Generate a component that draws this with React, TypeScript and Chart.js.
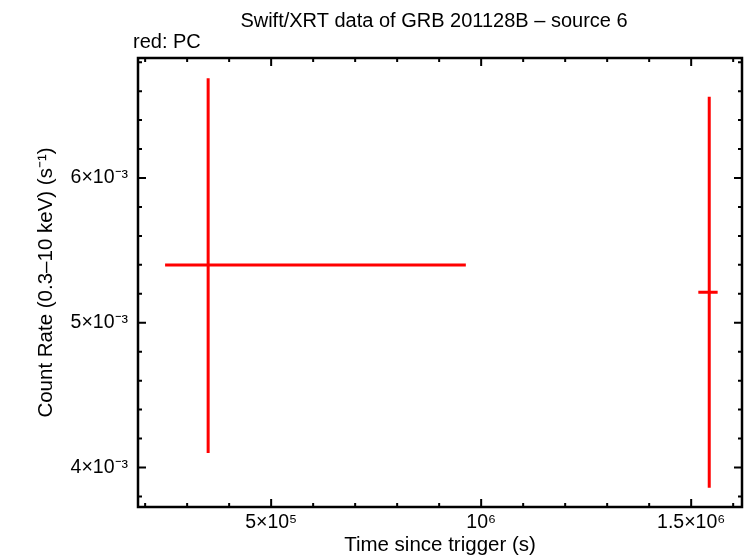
import React, { useEffect, useRef } from "react";
import { Chart, registerables } from "chart.js";

Chart.register(...registerables);

// Data (PC mode, red)
const timeValues = [3.5e5, 1.543e6];
const timeErrLow = [1.025e5, 2.6e4];
const timeErrHigh = [6.135e5, 2.0e4];
const rateValues = [5.399e-3, 5.21e-3];
const rateErrLow = [1.299e-3, 1.35e-3];
const rateErrHigh = [1.29e-3, 1.352e-3];

const xTickValues = [5e5, 1e6, 1.5e6];
const xTickLabels = ["5×10⁵", "10⁶", "1.5×10⁶"];
const yTickValues = [4e-3, 5e-3, 6e-3];
const yTickLabels = ["4×10⁻³", "5×10⁻³", "6×10⁻³"];

const X_MIN = 1.83e5;
const X_MAX = 1.621e6;
const Y_MIN = 3.727e-3;
const Y_MAX = 6.829e-3;
const X_MINOR_STEP = 1e5;
const Y_MINOR_STEP = 2e-4;

const FONT = "'Liberation Sans', Arial, Helvetica, sans-serif";
const RED = "#ff0000";

const errorBarPlugin = {
  id: "errorBars",
  afterDatasetsDraw(chart: any) {
    const { ctx, scales } = chart;
    const xs = scales.x;
    const ys = scales.y;
    ctx.save();
    ctx.strokeStyle = RED;
    ctx.lineWidth = 3;
    ctx.lineCap = "butt";
    for (let i = 0; i < timeValues.length; i++) {
      const x = xs.getPixelForValue(timeValues[i]);
      const y = ys.getPixelForValue(rateValues[i]);
      const x0 = xs.getPixelForValue(timeValues[i] - timeErrLow[i]);
      const x1 = xs.getPixelForValue(timeValues[i] + timeErrHigh[i]);
      const y0 = ys.getPixelForValue(rateValues[i] - rateErrLow[i]);
      const y1 = ys.getPixelForValue(rateValues[i] + rateErrHigh[i]);
      ctx.beginPath();
      ctx.moveTo(x0, y);
      ctx.lineTo(x1, y);
      ctx.moveTo(x, y0);
      ctx.lineTo(x, y1);
      ctx.stroke();
    }
    ctx.restore();
  },
};

const framePlugin = {
  id: "frameTicks",
  afterDraw(chart: any) {
    const { ctx, chartArea, scales } = chart;
    const { left, right, top, bottom } = chartArea;
    const xs = scales.x;
    const ys = scales.y;
    ctx.save();
    ctx.strokeStyle = "#000";
    ctx.lineWidth = 2;
    const xStart = Math.ceil(X_MIN / X_MINOR_STEP);
    const xEnd = Math.floor(X_MAX / X_MINOR_STEP);
    for (let k = xStart; k <= xEnd; k++) {
      const v = k * X_MINOR_STEP;
      const px = xs.getPixelForValue(v);
      const major = xTickValues.some((t) => Math.abs(t - v) < 1);
      const len = major ? 8 : 4;
      ctx.beginPath();
      ctx.moveTo(px, bottom);
      ctx.lineTo(px, bottom - len);
      ctx.moveTo(px, top);
      ctx.lineTo(px, top + len);
      ctx.stroke();
    }
    const yStart = Math.ceil(Y_MIN / Y_MINOR_STEP - 1e-6);
    const yEnd = Math.floor(Y_MAX / Y_MINOR_STEP + 1e-6);
    for (let k = yStart; k <= yEnd; k++) {
      const v = k * Y_MINOR_STEP;
      const py = ys.getPixelForValue(v);
      const major = yTickValues.some((t) => Math.abs(t - v) < 1e-9);
      const len = major ? 8 : 4;
      ctx.beginPath();
      ctx.moveTo(left, py);
      ctx.lineTo(left + len, py);
      ctx.moveTo(right, py);
      ctx.lineTo(right - len, py);
      ctx.stroke();
    }
    ctx.lineWidth = 2.5;
    ctx.strokeRect(left, top, right - left, bottom - top);
    // titles
    ctx.fillStyle = "#000";
    ctx.textBaseline = "middle";
    ctx.font = `20px ${FONT}`;
    ctx.textAlign = "center";
    ctx.fillText("Swift/XRT data of GRB 201128B – source 6", 434, 21);
    ctx.textAlign = "left";
    ctx.fillText("red: PC", 133, 42);
    ctx.restore();
  },
};

export default function App() {
  const ref = useRef<HTMLCanvasElement | null>(null);
  useEffect(() => {
    document.body.style.margin = "0";
    const canvas = ref.current;
    if (!canvas) return;
    const chart = new Chart(canvas, {
      type: "scatter",
      data: {
        datasets: [
          {
            label: "PC",
            data: timeValues.map((t, i) => ({ x: t, y: rateValues[i] })),
            pointRadius: 0,
            showLine: false,
            borderColor: RED,
            backgroundColor: RED,
          },
        ],
      },
      options: {
        animation: false,
        responsive: false,
        devicePixelRatio: 1,
        layout: { padding: { left: 0, right: 4, top: 58, bottom: 0 } },
        plugins: {
          legend: { display: false },
          tooltip: { enabled: false },
          title: { display: false },
        },
        scales: {
          x: {
            type: "linear",
            min: X_MIN,
            max: X_MAX,
            afterBuildTicks: (s: any) => {
              s.ticks = xTickValues.map((v) => ({ value: v }));
            },
            afterFit: (s: any) => {
              s.height = 51;
            },
            ticks: {
              callback: (v: any) => {
                const i = xTickValues.indexOf(Number(v));
                return i >= 0 ? xTickLabels[i] : "";
              },
              font: { family: FONT, size: 19.5 },
              color: "#000",
              padding: 4,
              maxRotation: 0,
              autoSkip: false,
            },
            grid: { display: false, drawTicks: false },
            border: { display: false },
            title: {
              display: true,
              text: "Time since trigger (s)",
              font: { family: FONT, size: 20.5 },
              color: "#000",
              padding: { top: 0, bottom: 0 },
            },
          },
          y: {
            type: "linear",
            min: Y_MIN,
            max: Y_MAX,
            afterBuildTicks: (s: any) => {
              s.ticks = yTickValues.map((v) => ({ value: v }));
            },
            afterFit: (s: any) => {
              s.width = 138;
            },
            ticks: {
              callback: (v: any) => {
                const i = yTickValues.findIndex((t) => Math.abs(t - Number(v)) < 1e-9);
                return i >= 0 ? yTickLabels[i] : "";
              },
              font: { family: FONT, size: 19.5 },
              color: "#000",
              padding: 10,
              autoSkip: false,
            },
            grid: { display: false, drawTicks: false },
            border: { display: false },
            title: {
              display: true,
              text: "Count Rate (0.3–10 keV) (s⁻¹)",
              font: { family: FONT, size: 20.5 },
              color: "#000",
              padding: { top: 34, bottom: 0 },
            },
          },
        },
      },
      plugins: [errorBarPlugin, framePlugin],
    });
    return () => chart.destroy();
  }, []);
  return (
    <div style={{ position: "fixed", left: 0, top: 0, width: 746, height: 558, background: "#fff" }}>
      <canvas ref={ref} width={746} height={558} />
    </div>
  );
}
